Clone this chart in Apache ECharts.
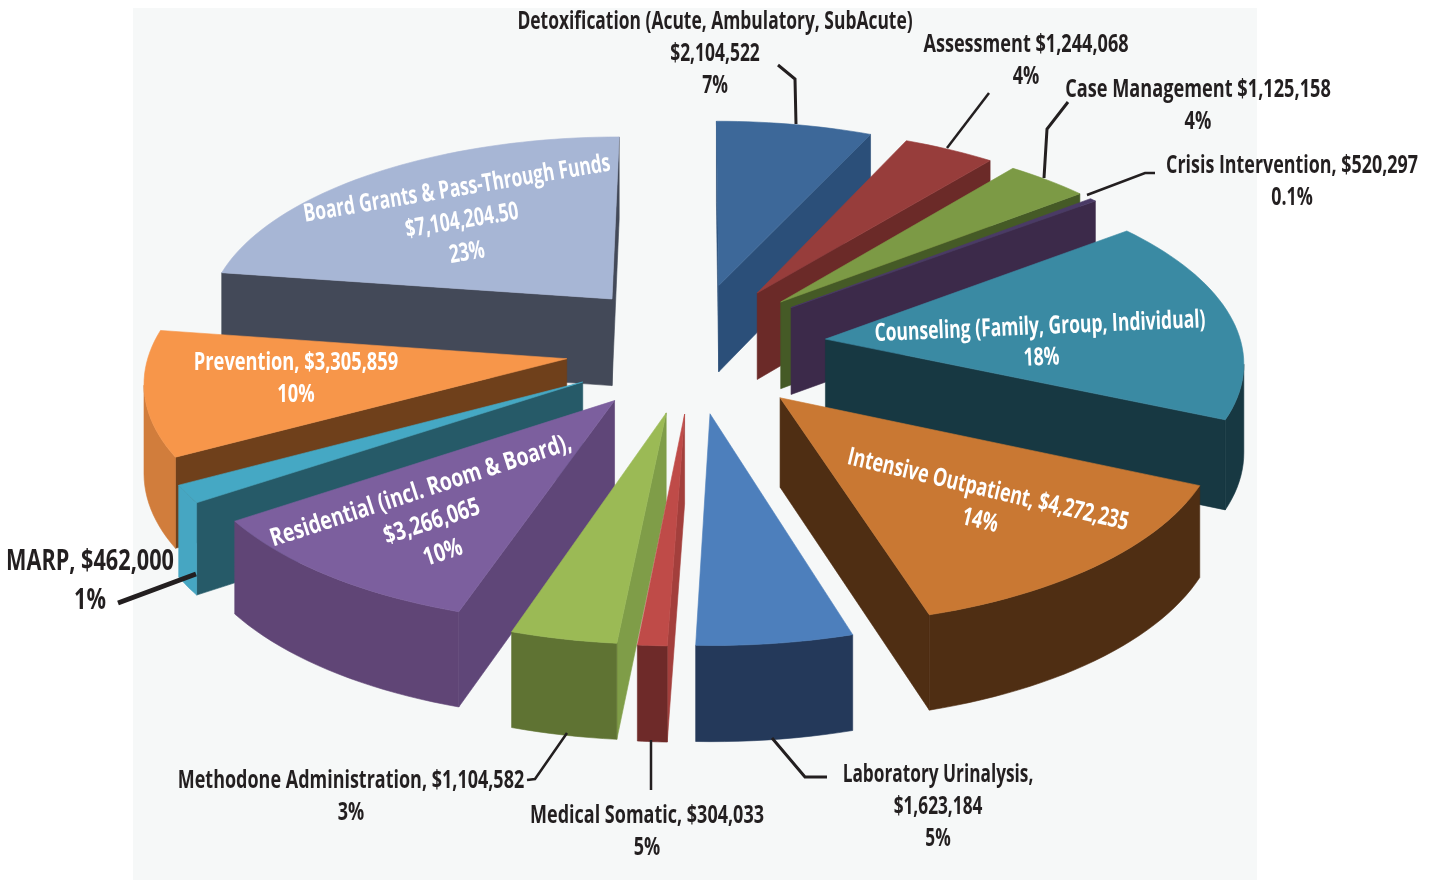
<!DOCTYPE html>
<html><head><meta charset="utf-8">
<style>html,body{margin:0;padding:0;background:#fff}#c{width:1436px;height:880px}</style>
<script src="https://cdn.jsdelivr.net/npm/echarts@6/dist/echarts.min.js"></script>
</head><body><div id="c"></div>
<script>
// ---- data (clockwise from 12 o'clock) ----
const categories = ['Detoxification','Assessment','Case Management','Crisis Intervention','Counseling','Intensive Outpatient','Laboratory Urinalysis','Medical Somatic','Methodone Administration','Residential','MARP','Prevention','Board Grants'];
const dollars = [2104522,1244068,1125158,90000,5420000,4272235,1623184,304033,1104582,3266065,462000,3305859,7104204.5];
const topColors =    ['#3d6899','#973d3b','#7c9a45','#4a3a66','#3a8aa3','#c97833','#4d7fbc','#bf4b48','#9bba55','#7c5f9e','#45a8c4','#f7964a','#a7b6d5'];
const radialColors = ['#2b4f79','#6b2a28','#455a26','#3c2a4a','#173842','#4f2e13','#2a4468','#a33f3c','#7f9d48','#5f4678','#265a68','#6f401b','#434958'];
const rimColors =    ['#2b4f79','#6b2a28','#455a26','#3c2a4a','#173842','#4f2e13','#24395a','#6e2a29','#5f7333','#604576','#46a6c2','#d17d3c','#434958'];
const radiusScale =  [1,1,1,1,0.98,1,1,1,1,0.98,1,0.98,0.97];
const explodeScale = [1,1,1,1,1.05,1.01,1,1,1,1,1,1,1];
const labelLines = [
 ['Detoxification (Acute, Ambulatory, SubAcute)','$2,104,522','7%'],
 ['Assessment $1,244,068','4%'],
 ['Case Management $1,125,158','4%'],
 ['Crisis Intervention, $520,297','0.1%'],
 ['Counseling (Family, Group, Individual)','18%'],
 ['Intensive Outpatient, $4,272,235','14%'],
 ['Laboratory Urinalysis,','$1,623,184','5%'],
 ['Medical Somatic, $304,033','5%'],
 ['Methodone Administration, $1,104,582','3%'],
 ['Residential (incl. Room & Board),','$3,266,065','10%'],
 ['MARP, $462,000','1%'],
 ['Prevention, $3,305,859','10%'],
 ['Board Grants & Pass-Through Funds','$7,104,204.50','23%']
];

// ---- view settings ----
const view = {cx:693, cy:347, A:425, B:197, k:0.105, explode:0.3, explodeY:1.1, radiusY:0.98, depth:88};
const FONT = '"Open Sans",sans-serif';
const total = dollars.reduce((a,b)=>a+b,0);

// cumulative angles; far slices are drawn first
let acc = 0;
const rows = dollars.map((v,i)=>{const s=acc/total*2*Math.PI; acc+=v; const e=acc/total*2*Math.PI; return [i,v,s,e];});
rows.sort((a,b)=>Math.cos((b[2]+b[3])/2)-Math.cos((a[2]+a[3])/2));

function project(u,v,z){
  const w = 1+view.k*v;
  return [view.cx+view.A*u/w, view.cy-view.B*v/w+view.depth*z/Math.pow(w,0.6)];
}
function poly(points,fill){
  return {type:'polygon',shape:{points},style:{fill,stroke:fill,lineWidth:0.6},silent:true};
}
function wall(top,bottom,fill){return poly(top.concat(bottom.slice().reverse()),fill);}

function renderItem(params,api){
  const i=api.value(0), s=api.value(2), e=api.value(3), mid=(s+e)/2;
  const ex=view.explode*explodeScale[i], R=radiusScale[i];
  const ox=ex*Math.sin(mid), oy=ex*view.explodeY*Math.cos(mid);
  const at=(th,r,z)=>project(ox+r*R*Math.sin(th),oy+r*R*view.radiusY*Math.cos(th),z);
  const n=Math.max(6,Math.ceil((e-s)/0.03));
  const arc=[],arcB=[];
  for(let j=0;j<=n;j++){const th=s+(e-s)*j/n;arc.push(at(th,1,0));arcB.push(at(th,1,1));}
  const apex=at(0,0,0), apexB=at(0,0,1);
  const kids=[];
  let run=[],runB=[];
  for(let j=0;j<n;j++){
    if(arc[j+1][0]<arc[j][0]){
      if(!run.length){run.push(arc[j]);runB.push(arcB[j]);}
      run.push(arc[j+1]);runB.push(arcB[j+1]);
    }
  }
  if(arc[0][0]<apex[0]) kids.push(wall([apex,arc[0]],[apexB,arcB[0]],radialColors[i]));
  if(apex[0]<arc[n][0]) kids.push(wall([arc[n],apex],[arcB[n],apexB],radialColors[i]));
  if(run.length) kids.push(wall(run,runB,rimColors[i]));
  kids.push(poly([apex].concat(arc),topColors[i]));
  return {type:'group',children:kids};
}

// ---- annotation layout ----
const dark='#231f20', white='#ffffff';
const labelLayout=[ // x, first line y, size, colour, rotation(deg), per-line dx, horizontal squeeze
 [715,22,25,dark,0,0,.697],[1026,45,25,dark,0,0,.724],[1198,90,25,dark,0,0,.727],[1292,166,25,dark,0,0,.715],
 [1040,327,25,white,2.4,1.5,.70],[988,490,25,white,-13.3,-8,.714],[938,775,25,dark,0,0,.69],[647,816,25,dark,0,0,.72],[351,781,25,dark,0,0,.719],
 [421,491,25,white,18,11,.775],[90,562,29,dark,0,0,.747],[296,363,25,white,0,0,.73],[457,189,25,white,9.5,5,.695]
];
const lineGap=[32,32,32,32,31,31,32,32,32,31,39,32,32];
const leaders=[
 {p:[[778,65],[795,79],[796,124]],w:3},
 {p:[[989,93],[947,148]],w:2.5},
 {p:[[1068,102],[1047,129],[1044,178]],w:3},
 {p:[[1087,195],[1145,173],[1155,173]],w:2.5},
 {p:[[118,603],[196,574]],w:5},
 {p:[[527,780],[535,779],[567,733]],w:2.5},
 {p:[[651,740],[651,790]],w:2.5},
 {p:[[772,738],[805,777],[827,777]],w:3}
];
const graphics=[{type:'rect',z:-10,silent:true,shape:{x:133,y:8,width:1124,height:872},style:{fill:'#f6f8f8'}}];
leaders.forEach(l=>graphics.push({type:'polyline',z:20,silent:true,shape:{points:l.p},style:{stroke:dark,lineWidth:l.w,fill:null}}));
labelLines.forEach((lines,i)=>{
  const [x,y,size,col,rot,dx,sq]=labelLayout[i];
  lines.forEach((t,j)=>graphics.push({type:'text',z:30,silent:true,x:x+dx*j,y:y+lineGap[i]*j,rotation:rot*Math.PI/180,scaleX:sq,
    style:{text:t,align:'center',verticalAlign:'middle',fill:col,font:'bold '+size+'px '+FONT}}));
});

const chart=echarts.init(document.getElementById('c'),null,{renderer:'canvas',width:1436,height:880});
chart.setOption({
  animation:false,
  graphic:{elements:graphics},
  series:[{type:'custom',coordinateSystem:'none',renderItem,data:rows,silent:true,z:5}]
});
</script></body></html>
